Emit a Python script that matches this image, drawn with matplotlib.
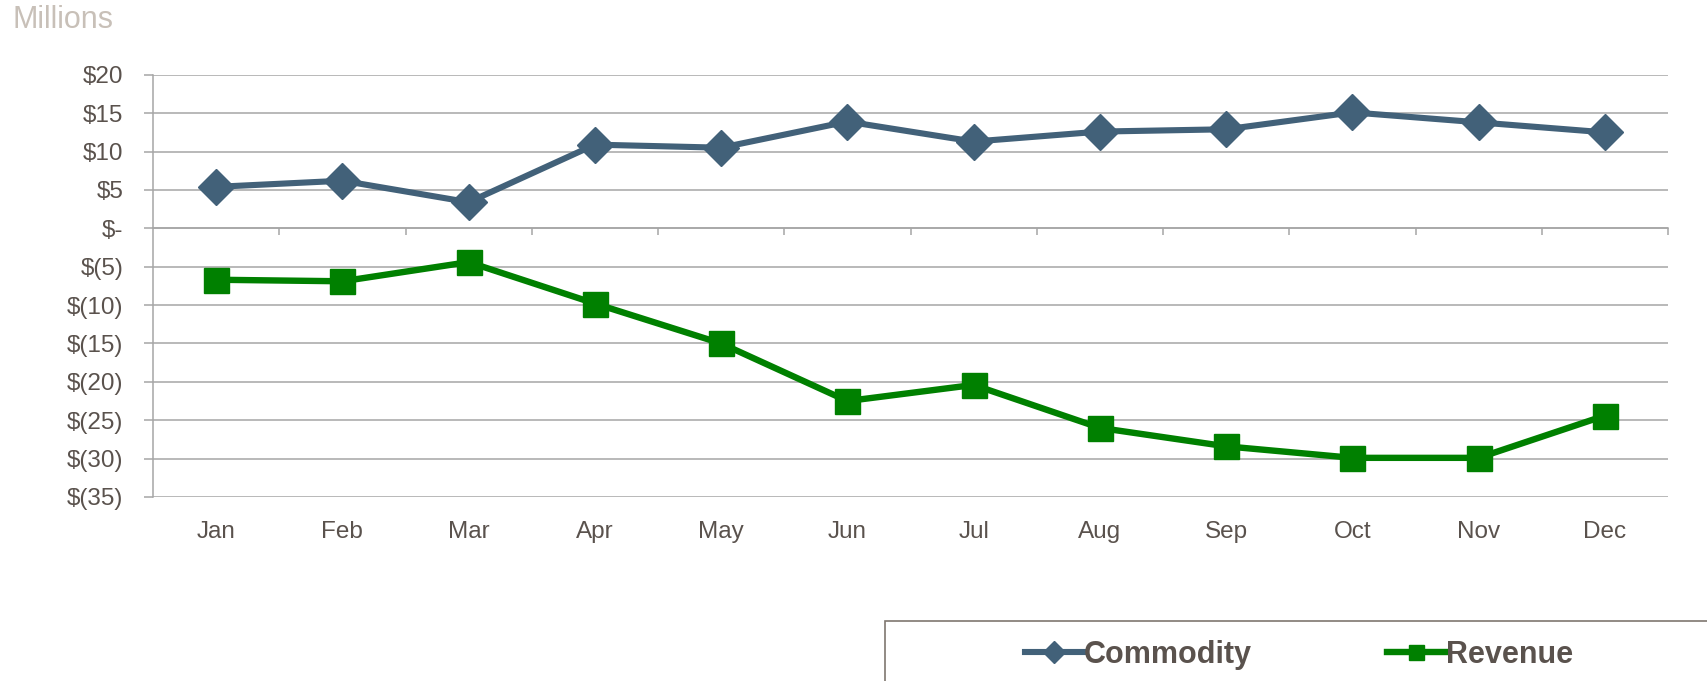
import numpy as np
import matplotlib.pyplot as plt
from matplotlib.patches import Rectangle
from matplotlib.ticker import FixedLocator

months = ["Jan", "Feb", "Mar", "Apr", "May", "Jun",
          "Jul", "Aug", "Sep", "Oct", "Nov", "Dec"]
commodity = [5.4, 6.2, 3.4, 10.9, 10.5, 13.9, 11.3, 12.6, 12.9, 15.1, 13.8, 12.5]
revenue = [-6.7, -6.9, -4.4, -9.8, -15.0, -22.5, -20.4, -26.0, -28.4, -29.9, -29.9, -24.4]
y_ticks = [20, 15, 10, 5, 0, -5, -10, -15, -20, -25, -30, -35]

TEXT = "#5a524d"
GRID = "#a6a6a6"
C_COM = "#426179"
C_REV = "#008000"


def money(v):
    if v == 0:
        return "$-"
    if v < 0:
        return f"$({-v:g})"
    return f"${v:g}"


plt.rcParams["font.family"] = ["Liberation Sans", "DejaVu Sans"]

fig = plt.figure(figsize=(17.08, 6.81), dpi=100)
ax = fig.add_axes([0.0896, 0.2702, 0.887, 0.620])

x = np.arange(len(months))
ax.plot(x, commodity, color=C_COM, lw=4.4, marker="D", ms=18,
        mec=C_COM, label="Commodity", zorder=3)
ax.plot(x, revenue, color=C_REV, lw=4.6, marker="s", ms=18,
        mec=C_REV, label="Revenue", zorder=3)

ax.set_xlim(-0.5, len(months) - 0.5)
ax.set_ylim(-35, 20)
ax.set_yticks(y_ticks)
ax.set_yticklabels([money(v) for v in y_ticks])
ax.yaxis.grid(True, color=GRID, lw=1.1)
ax.set_axisbelow(True)
ax.tick_params(axis="y", direction="out", length=6.5, width=1.1, color=GRID,
               pad=15, labelsize=17.5, labelcolor=TEXT)

for s in ["top", "right"]:
    ax.spines[s].set_visible(False)
ax.spines["left"].set_color(GRID)
ax.spines["left"].set_linewidth(1.1)
ax.spines["bottom"].set_position(("data", 0))
ax.spines["bottom"].set_color(GRID)
ax.spines["bottom"].set_linewidth(1.1)

# category boundaries on the zero line, labels at the bottom
ax.set_xticks(x)
ax.set_xticklabels([])
ax.tick_params(axis="x", which="major", length=0)
ax.xaxis.set_minor_locator(FixedLocator(np.arange(0.5, len(months), 1.0)))
ax.tick_params(axis="x", which="minor", direction="out", length=5,
               width=1.1, color=GRID)

sec = ax.secondary_xaxis(0)
sec.set_xticks(x)
sec.set_xticklabels(months)
sec.tick_params(length=0, pad=17, labelsize=17.5, labelcolor=TEXT)
sec.spines["bottom"].set_visible(False)

fig.text(13 / 1708, 1 - 5 / 681, "Millions", ha="left", va="top",
         fontsize=22, color="#c8c0b8")

# legend box
fig.patches.append(Rectangle((885 / 1708, -0.1), 1.0, 0.1 + (681 - 621) / 681,
                             transform=fig.transFigure, fill=False,
                             edgecolor="#7f7770", lw=1.2))
fig.legend(loc="center", bbox_to_anchor=(1299 / 1708, 1 - 655 / 681),
           ncol=2, frameon=False, handlelength=1.9, handletextpad=0.05,
           columnspacing=4.4, markerscale=0.6,
           prop={"weight": "bold", "size": 22},
           labelcolor=TEXT)

fig.savefig("out.png", dpi=100)
